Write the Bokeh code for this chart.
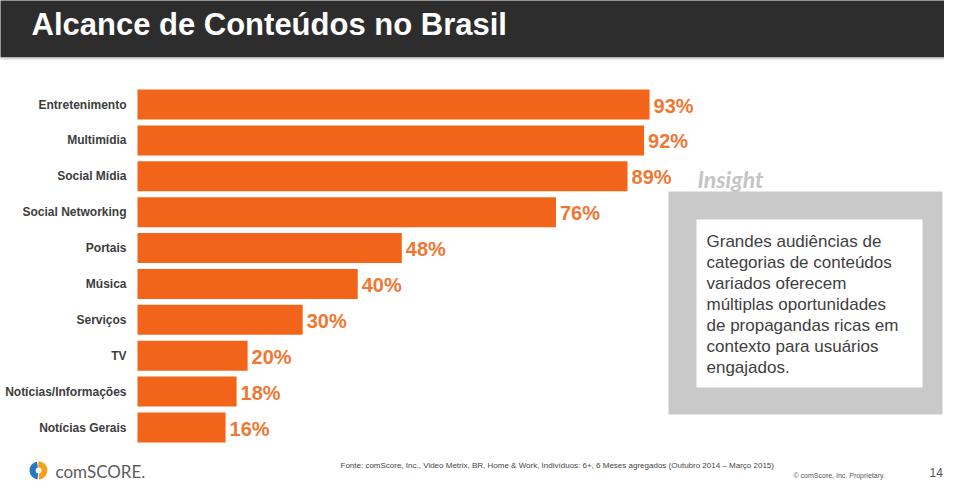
from bokeh.plotting import figure
from bokeh.models import Range1d, ColumnDataSource
from bokeh.core.properties import value
from bokeh.embed import file_html
from bokeh.resources import INLINE

# ---- data ----
categories = ["Entretenimento", "Multimídia", "Social Mídia", "Social Networking", "Portais",
              "Música", "Serviços", "TV", "Notícias/Informações", "Notícias Gerais"]
reach = [93, 92, 89, 76, 48, 40, 30, 20, 18, 16]
reach_labels = [f"{v}%" for v in reach]

title_text = "Alcance de Conteúdos no Brasil"
insight_title = "Insight"
insight_lines = ["Grandes audiências de", "categorias de conteúdos", "variados oferecem",
                 "múltiplas oportunidades", "de propagandas ricas em", "contexto para usuários",
                 "engajados."]
source_text = ("Fonte: comScore, Inc., Video Metrix, BR, Home & Work, Indivíduos: 6+, "
               "6 Meses agregados (Outubro 2014 \u2013 Março 2015)")
copyright_text = "\u00a9 comScore, Inc. Proprietary."
page_number = "14"
logo_text = "comSCORE."

# ---- styling / layout ----
BAR = "#F26419"
LBL = "#EE7833"
TXT = "#3d3d3d"
FONT = value("Liberation Sans")

W, H = 944, 481
X0, SX = 137.0, 5.506      # px of 0 %, px per %
Y0, SY = 104.0, 35.89      # px of first row centre, px per row


def fx(px):
    return (px - X0) / SX


def fy(py):
    return (py - Y0) / SY


rows = list(range(len(categories)))
src = ColumnDataSource(dict(cat=categories, val=reach, lab=reach_labels, row=rows))

p = figure(width=W, height=H, output_backend="svg", toolbar_location=None,
           x_range=Range1d(fx(0), fx(W)), y_range=Range1d(fy(H), fy(0)),
           min_border=0, min_border_left=0, min_border_right=0,
           min_border_top=0, min_border_bottom=0)
p.axis.visible = False
p.grid.visible = False
p.outline_line_color = None
p.background_fill_color = "white"
p.border_fill_color = "white"

# header
p.quad(left=fx(-2), right=fx(W + 2), top=fy(-2), bottom=fy(57), color="#2d2d2d", line_color=None)
p.quad(left=fx(-2), right=fx(W + 2), top=fy(57), bottom=fy(59), color="#d6d6d6", line_color=None)
p.text(x=fx(31), y=fy(24), text=[title_text], text_font=FONT, text_font_style="bold",
       text_font_size="31px", text_color="white", text_baseline="alphabetic")

# bars
p.hbar(y="row", left=0, right="val", height=30 / SY, source=src, color=BAR, line_color=None)
p.text(x=fx(126), y="row", text="cat", source=src, text_align="right", text_baseline="middle",
       text_font=FONT, text_font_style="bold", text_font_size="12px", text_color=TXT)
p.text(x="val", y="row", text="lab", source=src, x_offset=4, y_offset=1,
       text_align="left", text_baseline="middle",
       text_font=FONT, text_font_style="bold", text_font_size="20px", text_color=LBL)

# insight box
p.quad(left=fx(668), right=fx(942), top=fy(191), bottom=fy(414), color="#c9c9c9", line_color=None)
p.quad(left=fx(696), right=fx(922), top=fy(219), bottom=fy(387), color="white", line_color=None)
p.text(x=fx(697), y=fy(178), text=[insight_title], text_baseline="middle",
       text_font=value("Lato"), text_font_style="bold italic",
       text_font_size="23px", text_color="#c4c4c4")
line_y = [fy(241 + 21 * i) for i in range(len(insight_lines))]
p.text(x=fx(706), y=line_y, text=insight_lines, text_baseline="middle",
       text_font=FONT, text_font_size="17px", text_color="#404040")

# footer
p.annular_wedge(x=fx(38), y=fy(470), inner_radius=3, outer_radius=9,
                inner_radius_units="screen", outer_radius_units="screen",
                start_angle=1.75, end_angle=4.6, color="#2479c2", line_color=None)
p.annular_wedge(x=fx(38), y=fy(470), inner_radius=3, outer_radius=9,
                inner_radius_units="screen", outer_radius_units="screen",
                start_angle=4.75, end_angle=7.9, color="#f4a21c", line_color=None)
p.text(x=fx(55), y=fy(471), text=[logo_text], text_baseline="middle",
       text_font=value("Lato"), text_font_size="17px", text_color="#5c5c5c")
p.text(x=fx(340), y=fy(465), text=[source_text], text_baseline="middle",
       text_font=FONT, text_font_size="8px", text_color="#444444")
p.text(x=fx(793), y=fy(475), text=[copyright_text], text_baseline="middle",
       text_font=FONT, text_font_size="7px", text_color="#555555")
p.text(x=fx(929), y=fy(472), text=[page_number], text_baseline="middle",
       text_font=FONT, text_font_size="12px", text_color="#555555")

open("out.html", "w").write(file_html(p, INLINE))
